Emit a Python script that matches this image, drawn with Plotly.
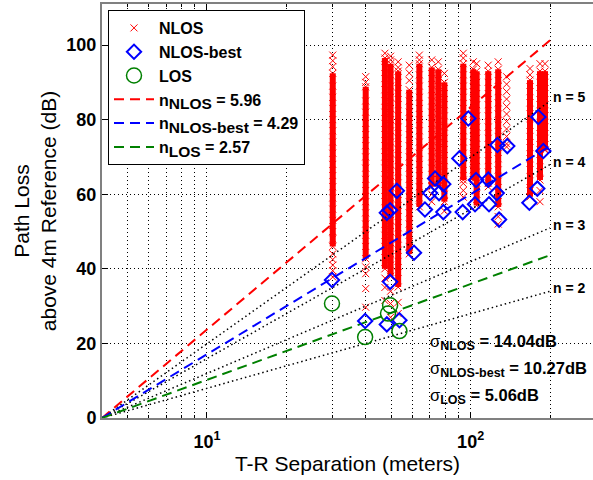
import numpy as np
import plotly.graph_objects as go

FONT = "Liberation Sans, Arial, sans-serif"

# ---------------- data ----------------
# NLOS raw measurements: one vertical column of samples per T-R distance
NLOS_DIST = [30.0, 40.0, 47.3, 49.7, 53.1, 58.5, 63.9, 71.2, 75.4, 79.5,
             93.8, 102.3, 105.4, 116.6, 127.2, 136.9, 167.9, 183.2, 191.4]
# continuous (solid) part of each column: lower / upper end (None = no solid part)
NLOS_BAND_LO = [46.0, 42.7, 40.0, 38.0, 35.1, 44.0, 56.6, 62.0, 62.0, 58.0,
                63.8, 63.8, 57.0, 62.0, 56.6, None, 59.3, 63.8, 71.8]
NLOS_BAND_HI = [92.4, 88.8, 96.5, 95.0, 93.0, 88.0, 95.0, 94.0, 93.5, 90.0,
                95.0, 93.5, 93.0, 93.0, 93.5, None, 90.6, 93.0, 93.0]
NLOS_SAMPLES = [
    [97.3, 95.8, 94.2, 92.4, 89, 86, 83, 80, 77, 74, 71, 68, 65, 62, 59, 56, 53, 50,
     48, 46, 44, 42.5, 41, 39.5, 37.8],
    [91.5, 90, 88.8, 85, 82, 79, 76, 73, 70, 67, 64, 61, 58, 55, 52, 49, 46, 42.7,
     40.5, 38.7, 34.7, 29.7],
    [97.8, 96.5, 94, 91, 88, 85, 82, 79, 76, 73, 70, 67, 64, 61, 58, 55, 52, 49, 46,
     43, 40, 37.5, 35, 31.5],
    [97, 96, 95, 92, 89, 86, 83, 80, 77, 74, 71, 68, 65, 62, 59, 56, 53, 50, 47, 44,
     41, 38, 34, 30.7, 27],
    [95.5, 94, 93, 90, 87, 84, 81, 78, 75, 72, 69, 66, 63, 60, 57, 54, 51, 48, 45,
     42, 39, 35.1, 31, 28],
    [94.6, 92.5, 90.5, 88, 85, 82, 79, 76, 73, 70, 67, 64, 61, 58, 55, 52, 49, 46, 44],
    [97.3, 96, 95, 92, 89, 86, 83, 80, 77, 74, 71, 68, 65, 62, 59, 56.6],
    [96, 94, 91, 88, 85, 82, 79, 76, 73, 70, 67, 64, 62, 60, 58],
    [95.5, 93.5, 90.5, 87.5, 84.5, 81.5, 78.5, 75.5, 72.5, 69.5, 66.5, 64, 62],
    [92.4, 90, 87, 84, 81, 78, 75, 72, 69, 66, 63, 60, 58, 55.5],
    [97.8, 96.5, 95, 92, 89, 86, 83, 80, 77, 74, 71, 68, 65, 63.8, 62.9, 61, 59.2],
    [95.5, 93.5, 90.5, 87.5, 84.5, 81.5, 78.5, 75.5, 72.5, 69.5, 66.5, 63.8],
    [95, 93, 90, 87, 84, 81, 78, 75, 72, 69, 66, 63, 60, 57],
    [94.6, 93, 90, 87, 84, 81, 78, 75, 72, 69, 66, 63, 62],
    [95.5, 93.5, 90.5, 87.5, 84.5, 81.5, 78.5, 75.5, 72.5, 69.5, 66.5, 63.5, 60.5,
     58, 56.6, 54, 52],
    [91.5, 89.5, 87.5, 85.5, 83.5, 81.5, 79.5, 77.5, 75.5, 73.5, 72.7],
    [93.7, 92, 90.6, 87.5, 84.5, 81.5, 78.5, 75.5, 72.5, 69.5, 66.5, 63.5, 61, 59.3],
    [95, 93, 90, 87, 84, 81, 78, 75, 72, 69, 66, 63.8, 61, 58],
    [95, 93, 90, 87, 84, 81, 78, 75, 72, 71.8],
]

# NLOS-best (blue diamonds)
BEST_DIST = [29.8, 39.8, 48.1, 53.7, 49.5, 48.1, 49.5, 52.5, 61.0, 67.1, 70.2, 73.3,
             75.9, 78.8, 78.8, 90.6, 93.3, 98.0, 103.9, 104.8, 116.7, 117.4, 125.6,
             126.3, 128.2, 137.7, 167.0, 179.0, 180.6, 188.7]
BEST_PL = [37.0, 26.0, 25.1, 26.2, 36.5, 55.0, 55.7, 60.9, 44.3, 55.9, 60.3, 64.2,
           60.3, 62.7, 55.2, 69.6, 55.2, 80.3, 57.3, 63.8, 63.9, 57.3, 60.3,
           73.2, 53.2, 72.9, 57.7, 61.5, 80.7, 71.6]

# LOS (green circles)
LOS_DIST = [29.8, 39.8, 49.5, 48.6, 53.7]
LOS_PL = [30.7, 21.7, 30.2, 28.0, 23.3]

# fitted path-loss exponents and reference exponents
FIT_NAMES = ["NLOS", "NLOS-best", "LOS"]
FIT_N = [5.96, 4.29, 2.57]
FIT_COLORS = ["#FF0000", "#0000FF", "#008000"]
SIGMA_DB = [14.04, 10.27, 5.06]
REF_N = [2, 3, 4, 5]
D_REF = 4.0
D_LINE = [4.0, 200.0]

X_TICKS = [10, 100]
X_TICK_TEXT = ["<b>10<sup>1</sup></b>", "<b>10<sup>2</sup></b>"]
X_MINOR = [5, 6, 7, 8, 9, 20, 30, 40, 50, 60, 70, 80, 90, 200]
Y_TICKS = [0, 20, 40, 60, 80, 100]

# ---------------- figure ----------------
fig = go.Figure()

bx, by = [], []
for d, lo, hi in zip(NLOS_DIST, NLOS_BAND_LO, NLOS_BAND_HI):
    if lo is None:
        continue
    bx += [d, d, None]
    by += [lo, hi, None]
fig.add_trace(go.Scatter(x=bx, y=by, mode="lines",
                         line=dict(color="#FF0000", width=6),
                         showlegend=False, hoverinfo="skip"))

mx, my = [], []
for d, s in zip(NLOS_DIST, NLOS_SAMPLES):
    mx += [d] * len(s)
    my += s
fig.add_trace(go.Scatter(x=mx, y=my, mode="markers", name="<b>NLOS</b>",
                         legendrank=1,
                         marker=dict(symbol="x-thin-open", size=7, color="#FF0000",
                                     line=dict(color="#FF0000", width=1))))

dl = np.array(D_LINE)
for n in REF_N:
    fig.add_trace(go.Scatter(x=dl, y=10 * n * np.log10(dl / D_REF), mode="lines",
                             line=dict(color="black", width=1.5, dash="1.5px,3px"),
                             showlegend=False, hoverinfo="skip"))

SUB = "<sub><span style='font-size:15.5px'>%s</span></sub>"
for i, (nm, n, c) in enumerate(zip(FIT_NAMES, FIT_N, FIT_COLORS)):
    fig.add_trace(go.Scatter(x=dl, y=10 * n * np.log10(dl / D_REF), mode="lines",
                             name=("<b>n" + SUB + " = %.2f</b>") % (nm, n),
                             legendrank=4 + i,
                             line=dict(color=c, width=2, dash="10px,6px")))

fig.add_trace(go.Scatter(x=BEST_DIST, y=BEST_PL, mode="markers", name="<b>NLOS-best</b>",
                         legendrank=2,
                         marker=dict(symbol="diamond-open", size=11, color="#0000FF",
                                     line=dict(color="#0000FF", width=2))))
fig.add_trace(go.Scatter(x=LOS_DIST, y=LOS_PL, mode="markers", name="<b>LOS</b>",
                         legendrank=3,
                         marker=dict(symbol="circle-open", size=15, color="#008000",
                                     line=dict(color="#008000", width=1.5))))

# n = k labels
n_label_y = [288.3, 225, 161.7, 97]
for n, ypx in zip(REF_N, n_label_y):
    fig.add_annotation(xref="paper", yref="paper", x=(551 - 102) / 491,
                       y=1 - (ypx - 4) / 414, xanchor="left", yanchor="middle",
                       text="<b>n = %d</b>" % n, showarrow=False,
                       font=dict(family=FONT, size=14, color="black"))

SIG_SUB = "<sub><span style='font-size:12.5px'>%s</span></sub>"
sig_y = [342, 369, 396]
for nm, s, ypx in zip(FIT_NAMES, SIGMA_DB, sig_y):
    fig.add_annotation(xref="paper", yref="paper", x=(428 - 102) / 491,
                       y=1 - (ypx - 4) / 414, xanchor="left", yanchor="middle",
                       text=("σ<b>" + SIG_SUB + " = %.2fdB</b>") % (nm, s),
                       showarrow=False,
                       font=dict(family=FONT, size=16.5, color="black"))

fig.update_layout(
    width=593, height=480,
    margin=dict(l=102, r=0, t=4, b=62, autoexpand=False),
    paper_bgcolor="white", plot_bgcolor="white",
    font=dict(family=FONT, size=15, color="black"),
    showlegend=True,
    legend=dict(x=(108 - 102) / 491, y=1 - (10 - 4) / 414, xanchor="left", yanchor="top",
                bgcolor="white", bordercolor="black", borderwidth=1,
                font=dict(family=FONT, size=16, color="black"),
                itemwidth=40, tracegroupgap=0),
    xaxis=dict(type="log", range=[np.log10(4), 2.464], automargin=False,
               tickvals=X_TICKS, ticktext=X_TICK_TEXT,
               tickfont=dict(family=FONT, size=18, color="black"),
               ticks="inside", ticklen=6, tickcolor="black", ticklabelstandoff=6,
               showline=True, linecolor="#808080", linewidth=2, mirror="ticks",
               showgrid=True, gridcolor="black", gridwidth=1, griddash="1px,3px",
               minor=dict(tickvals=X_MINOR, ticks="inside", ticklen=3, tickcolor="black",
                          showgrid=True, gridcolor="black", gridwidth=1,
                          griddash="1px,3px"),
               zeroline=False,
               title=dict(text="T-R Separation (meters)",
                          font=dict(family=FONT, size=21, color="black"), standoff=0)),
    yaxis=dict(range=[0, 111], tickvals=Y_TICKS, automargin=False,
               ticktext=["<b>%d</b>" % v for v in Y_TICKS],
               tickfont=dict(family=FONT, size=18, color="black"),
               ticks="inside", ticklen=6, tickcolor="black",
               showline=True, linecolor="#808080", linewidth=2,
               showgrid=True, gridcolor="black", gridwidth=1, griddash="1px,3px",
               zeroline=False,
               title=dict(text="Path Loss<br>above 4m Reference (dB)",
                          font=dict(family=FONT, size=21, color="black"), standoff=4)),
)

fig.write_html("out.html", config={"displayModeBar": False},
               post_script="document.body.style.margin='0';")
